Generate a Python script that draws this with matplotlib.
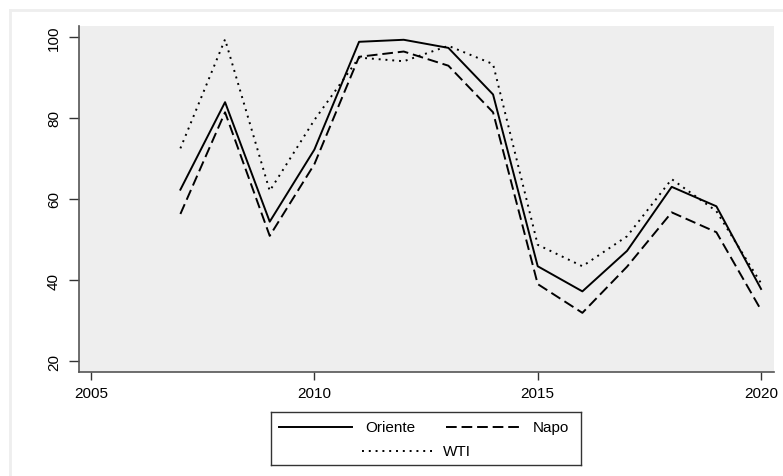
import numpy as np
import matplotlib
matplotlib.use("Agg")
import matplotlib.pyplot as plt
from matplotlib.lines import Line2D

plt.rcParams['font.family'] = ['Liberation Sans', 'DejaVu Sans']

years = [2007, 2008, 2009, 2010, 2011, 2012, 2013, 2014, 2015, 2016, 2017, 2018, 2019, 2020]
oriente = [62.3, 83.9, 54.4, 72.2, 98.8, 99.3, 97.3, 85.8, 43.4, 37.2, 47.2, 63.0, 58.2, 37.8]
napo = [56.3, 81.4, 50.9, 68.6, 95.1, 96.4, 92.9, 81.4, 39.0, 31.9, 43.3, 56.7, 51.8, 32.6]
wti = [72.5, 99.4, 62.0, 79.5, 94.9, 94.0, 97.8, 93.3, 48.7, 43.4, 50.8, 64.9, 57.0, 39.2]

series_names = ['Oriente', 'Napo', 'WTI']
xticks = [2005, 2010, 2015, 2020]
yticks = [20, 40, 60, 80, 100]

lw = 1.4
styles = {
    'Oriente': dict(linestyle='-'),
    'Napo': dict(linestyle=(0, (5.5, 2.5))),
    'WTI': dict(linestyle=(0, (1, 2.5))),
}

fig = plt.figure(figsize=(7.83, 4.77), dpi=100)
fig.patch.set_facecolor('white')

# light frame top/left like the source export
fig.add_artist(Line2D([10/783, 1], [1-11/477, 1-11/477], color='#eeeeee', lw=2, transform=fig.transFigure))
fig.add_artist(Line2D([10/783, 10/783], [0, 1-11/477], color='#eeeeee', lw=2, transform=fig.transFigure))

ax = fig.add_axes([79/783, 1-373/477, 695/783, 346/477])
ax.set_facecolor('#eeeeee')

for name, vals in zip(series_names, [oriente, napo, wti]):
    ax.plot(years, vals, color='black', lw=lw, **styles[name])

ax.set_xlim(2004.73, 2020.29)
ax.set_ylim(17.3, 102.7)
ax.set_xticks(xticks)
ax.set_yticks(yticks)
ax.tick_params(axis='x', length=6, width=1, color='#333333', pad=4, labelsize=11)
ax.tick_params(axis='y', length=7, width=1, color='#333333', pad=6, labelsize=11)
for lab in ax.get_yticklabels():
    lab.set_rotation(90)
    lab.set_va('center')

for s in ['top', 'right']:
    ax.spines[s].set_visible(False)
for s in ['left', 'bottom']:
    ax.spines[s].set_color('#555555')
    ax.spines[s].set_linewidth(1.2)

# legend box drawn below the plot, Stata style
lax = fig.add_axes([271/783, 1-466/477, 310/783, 53/477])
lax.set_xlim(0, 310)
lax.set_ylim(53, 0)
lax.set_xticks([])
lax.set_yticks([])
for s in lax.spines.values():
    s.set_color('#333333')
    s.set_linewidth(1)

entries = [
    ('Oriente', 8, 81, 94, 15),
    ('Napo', 175, 248, 262, 15),
    ('WTI', 91, 162, 172, 39),
]
for name, x0, x1, tx, y in entries:
    lax.plot([x0, x1], [y, y], color='black', lw=lw, **styles[name])
    lax.text(tx, y, name, fontsize=11, va='center', ha='left')

fig.savefig('out.png', dpi=100)
